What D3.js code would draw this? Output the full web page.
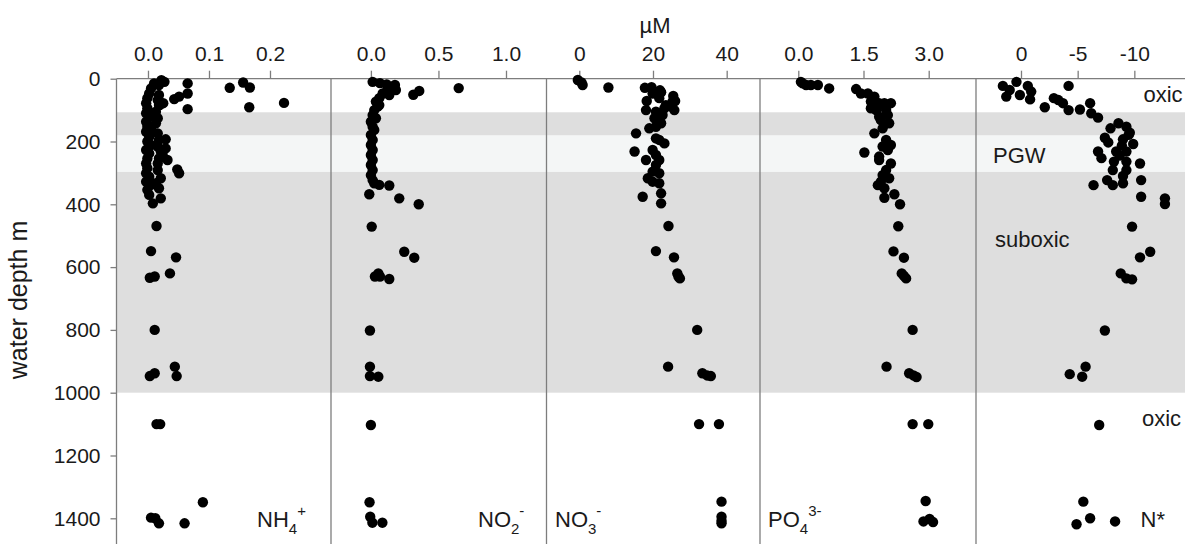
<!DOCTYPE html>
<html><head><meta charset="utf-8">
<script src="https://cdn.jsdelivr.net/npm/d3@7"></script>
<style>
body{margin:0;background:#fff}
svg{display:block}
text{font-family:"Liberation Sans",Arial,sans-serif;fill:#1a1a1a}
</style>
</head><body>
<svg id="chart" width="1185" height="544"></svg>
<script>
// ---------- data ----------
const depthTicks = [0, 200, 400, 600, 800, 1000, 1200, 1400];
const nh4Ticks = [0, 0.1, 0.2];
const no2Ticks = [0, 0.5, 1.0];
const no3Ticks = [0, 20, 40];
const po4Ticks = [0, 1.5, 3.0];
const nstarTicks = [0, -5, -10];

// water-mass zones: [top depth, bottom depth, kind]
const zones = [[107, 181, "gray"], [181, 297, "pgw"], [297, 1000, "gray"]];
const zoneLabels = ["oxic", "PGW", "suboxic", "oxic"];

// [depth m, value µM]
const nh4 = [
[5,0.022],[10,0.027],[15,0.010],[20,0.018],[15,0.065],[29,0.134],[12,0.156],[28,0.167],[77,0.223],[91,0.166],[97,0.065],[47,0.065],[57,0.051],[65,0.043],[78,0.025],[84,0.019],
[31,0.005],[47,0.002],[62,-0.001],[78,-0.003],[94,-0.001],[110,-0.003],[121,0.002],[137,-0.003],[153,-0.001],[158,0.005],[169,-0.003],[185,0.002],[200,-0.001],[211,0.005],[227,-0.003],[238,0.002],[254,-0.001],[270,-0.003],[285,-0.001],[301,-0.003],[312,0.002],[328,-0.003],[338,0.005],[354,-0.001],[370,0.002],[397,0.008],
[52,0.018],[68,0.016],[84,0.018],[105,0.013],[126,0.016],[142,0.013],[174,0.016],[195,0.018],[216,0.016],[232,0.021],[254,0.018],[243,0.024],[270,0.016],[291,0.016],[317,0.021],[333,0.013],[349,0.018],[381,0.021],
[193,0.029],[222,0.029],[259,0.032],[289,0.048],[301,0.051],
[469,0.014],[549,0.005],[569,0.046],[620,0.036],[634,0.003],[630,0.011],[800,0.011],[917,0.044],[947,0.003],[938,0.011],[947,0.047],[1100,0.014],[1100,0.020],[1349,0.090],[1398,0.005],[1400,0.012],[1416,0.018],[1416,0.060]
];
const no2 = [
[10,0.013],[14,0.067],[18,0.117],[20,0.178],[29,0.124],[36,0.185],[47,0.087],[52,0.136],[62,0.062],[30,0.650],[39,0.358],[51,0.314],
[73,0.037],[89,0.050],[100,0.025],[116,0.013],[126,0.037],[137,0.000],[153,0.013],[163,0.025],[179,0.000],[195,0.013],[211,0.000],[227,0.013],[243,0.000],[259,0.013],[275,0.000],[291,0.013],[307,0.000],[323,0.013],[333,0.025],
[84,0.062],[338,0.062],[340,0.136],[368,-0.012],[381,0.210],[400,0.354],
[471,0.006],[551,0.247],[570,0.321],[620,0.055],[630,0.067],[638,0.136],[630,0.030],[802,-0.007],[917,-0.007],[947,-0.007],[949,0.055],[1103,0.000],[1349,-0.010],[1395,-0.005],[1414,0.011],[1414,0.085]
];
const no3 = [
[4,-0.4],[12,0.6],[20,0.9],[28,7.9],
[29,17.8],[27,19.6],[37,21.9],[47,19.9],[43,22.2],[62,21.7],[55,25.5],[71,26.0],[71,18.3],[73,25.3],[89,24.9],[100,25.8],[94,23.1],[100,18.1],[105,20.8],[121,21.7],[142,22.2],[158,19.0],[153,20.8],[174,15.4],[190,20.8],[195,21.7],[206,23.1],[227,19.9],[232,15.0],[259,18.1],[259,21.7],[275,20.8],[296,19.9],[301,21.7],[317,18.6],[328,19.9],[333,21.7],[376,17.2],[365,22.2],[397,22.2],[243,20.8],[126,20.4],[116,22.6],[84,23.5],
[469,24.2],[549,20.8],[569,25.7],[620,26.6],[630,26.9],[636,27.3],[800,32.0],[917,24.1],[938,33.4],[945,34.7],[947,35.7],[1100,32.5],[1100,37.9],[1347,38.6],[1395,38.6],[1408,38.6],[1416,38.6]
];
const po4 = [
[10,0.06],[15,0.10],[20,0.18],[20,0.29],[20,0.45],[31,0.71],
[33,1.33],[47,1.44],[47,1.60],[57,1.75],[73,1.67],[78,1.86],[78,1.98],[78,2.13],[94,1.67],[100,1.79],[100,2.02],[121,1.86],[142,2.09],[158,1.94],[174,1.75],[195,2.02],[211,2.13],[216,1.94],[235,1.52],[259,1.86],[270,2.13],[291,2.02],[307,1.94],[317,2.09],[339,1.83],[349,1.98],[379,1.98],[368,2.21],[400,2.34],[132,1.90],[116,2.06],[248,1.86],[227,2.06],[328,1.90],[84,1.86],
[470,2.30],[550,2.19],[570,2.43],[620,2.38],[628,2.43],[636,2.48],[800,2.63],[917,2.03],[938,2.55],[945,2.65],[950,2.72],[1100,2.63],[1100,2.99],[1345,2.93],[1410,2.88],[1402,3.02],[1412,3.10]
];
const nstar = [
[10,0.4],[23,1.6],[36,1.0],[57,1.3],[52,0.1],[23,-0.6],[41,-0.9],[66,-0.8],[91,-2.1],[23,-4.2],[62,-2.9],[68,-3.3],[78,-3.7],[100,-4.2],[98,-5.2],[78,-6.1],[110,-6.2],[124,-6.8],
[158,-7.9],[142,-8.6],[153,-9.3],[179,-9.5],[188,-7.4],[203,-7.7],[193,-9.0],[172,-9.6],[208,-9.9],[232,-6.8],[253,-7.1],[232,-8.4],[232,-9.3],[270,-10.5],[264,-8.2],[264,-9.3],[291,-8.1],[291,-9.3],[323,-10.6],[339,-6.4],[323,-7.6],[339,-8.1],[333,-9.0],[376,-10.6],[381,-12.7],[399,-12.7],[213,-8.9],[245,-8.7],[310,-9.0],
[471,-9.8],[551,-11.4],[569,-10.5],[620,-8.8],[636,-9.3],[639,-9.8],[802,-7.4],[917,-5.7],[941,-4.3],[949,-5.4],[1103,-6.9],[1347,-5.5],[1419,-4.9],[1400,-6.1],[1410,-8.3]
];
const speciesMain = ["NH", "NO", "NO", "PO", "N*"];
const speciesSub = ["4", "2", "3", "4", ""];
const speciesSup = ["+", "-", "-", "3-", ""];

// ---------- layout ----------
const svg = d3.select("#chart");
const plotTop = 78.7;
const edges = [116.5, 331, 546.5, 760, 976, 1191];
const y = d3.scaleLinear().domain([0, 1490]).range([plotTop, plotTop + 1490 * 0.314]);
const lineCol = "#7d7d7d";
const fontSize = 21;

const panels = [
  {data: nh4,   domain: [-0.0516, 0.3],   ticks: nh4Ticks,   fmt: d3.format(".1f")},
  {data: no2,   domain: [-0.2953, 1.2998],ticks: no2Ticks,   fmt: d3.format(".1f")},
  {data: no3,   domain: [-8.9, 49.04],    ticks: no3Ticks,   fmt: d => String(d)},
  {data: po4,   domain: [-0.881, 4.088],  ticks: po4Ticks,   fmt: d3.format(".1f")},
  {data: nstar, domain: [3.97, -15.0],    ticks: nstarTicks, fmt: d => String(d)}
];

// zones
svg.append("g").selectAll("rect").data(zones).join("rect")
  .attr("x", edges[0]).attr("width", 1185 - edges[0])
  .attr("y", d => y(d[0])).attr("height", d => y(d[1]) - y(d[0]))
  .attr("fill", d => d[2] === "pgw" ? "#f4f6f6" : "#dedede");

// panel borders
svg.append("g").selectAll("line").data(edges.slice(0, 5)).join("line")
  .attr("x1", d => d).attr("x2", d => d).attr("y1", plotTop).attr("y2", 544)
  .attr("stroke", lineCol).attr("stroke-width", 1.3);
svg.append("line").attr("x1", edges[0]).attr("x2", 1185).attr("y1", plotTop).attr("y2", plotTop)
  .attr("stroke", lineCol).attr("stroke-width", 1.3);

// left axis
const ya = svg.append("g").attr("transform", `translate(${edges[0]},0)`)
  .call(d3.axisLeft(y).tickValues(depthTicks).tickSize(6).tickPadding(10).tickFormat(d3.format("d")));
ya.select(".domain").remove();
ya.selectAll(".tick line").attr("stroke", lineCol).attr("stroke-width", 1.3);
ya.selectAll(".tick text").attr("font-size", fontSize).attr("font-family", null).attr("fill", "#1a1a1a");

// panels
panels.forEach((p, i) => {
  const x = d3.scaleLinear().domain(p.domain).range([edges[i], edges[i + 1]]);
  const ax = svg.append("g").attr("transform", `translate(0,${plotTop})`)
    .call(d3.axisTop(x).tickValues(p.ticks).tickSize(8).tickPadding(9.3).tickFormat(p.fmt));
  ax.select(".domain").remove();
  ax.selectAll(".tick line").attr("stroke", lineCol).attr("stroke-width", 1.3);
  ax.selectAll(".tick text").attr("font-size", fontSize).attr("font-family", null).attr("fill", "#1a1a1a");

  svg.append("g").selectAll("circle").data(p.data).join("circle")
    .attr("cx", d => x(d[1])).attr("cy", d => y(d[0])).attr("r", 5.2).attr("fill", "#000");
});

// species labels
const labelX = [257, 478, 555, 768, 1140.5];
speciesMain.forEach((m, i) => {
  const t = svg.append("text").attr("x", labelX[i]).attr("y", 527).attr("font-size", 22);
  t.append("tspan").text(m);
  if (speciesSub[i]) t.append("tspan").attr("font-size", 15).attr("dy", 7).text(speciesSub[i]);
  if (speciesSup[i]) t.append("tspan").attr("font-size", 15).attr("dy", -18).text(speciesSup[i]);
});

// zone labels
const zoneLabelPos = [[1143.5, 101.7], [993, 162.5], [995, 246.7], [1142, 426]];
zoneLabels.forEach((s, i) => {
  svg.append("text").attr("x", zoneLabelPos[i][0]).attr("y", zoneLabelPos[i][1])
    .attr("font-size", 22).text(s);
});

// titles
svg.append("text").attr("x", 655).attr("y", 33).attr("text-anchor", "middle")
  .attr("font-size", 22).text("µM");
svg.append("text").attr("transform", "translate(27,300) rotate(-90)")
  .attr("text-anchor", "middle").attr("font-size", 25).text("water depth m");
</script>
</body></html>
